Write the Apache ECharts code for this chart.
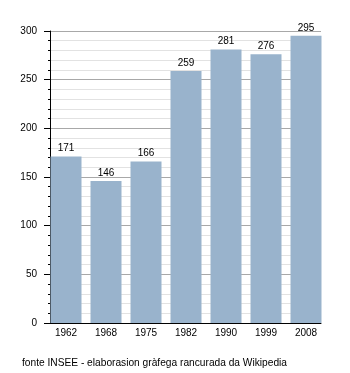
<!DOCTYPE html>
<html>
<head>
<meta charset="utf-8">
<script src="https://cdn.jsdelivr.net/npm/echarts@6/dist/echarts.min.js"></script>
<style>
  html, body { margin: 0; padding: 0; background: #fff; }
  #chart { width: 350px; height: 373px; }
</style>
</head>
<body>
<div id="chart"></div>
<script>
// Population by census year
const years = ['1962', '1968', '1975', '1982', '1990', '1999', '2008'];
const population = [171, 146, 166, 259, 281, 276, 295];
const yTicks = [0, 50, 100, 150, 200, 250, 300];

const FONT = '"Liberation Sans", Arial, sans-serif';
const yMin = yTicks[0];
const yMax = yTicks[yTicks.length - 1];
const yStep = yTicks[1] - yTicks[0];

const chart = echarts.init(document.getElementById('chart'), null, { renderer: 'canvas' });

chart.setOption({
  animation: false,
  backgroundColor: '#ffffff',
  textStyle: { fontFamily: FONT },
  title: {
    text: 'fonte INSEE - elaborasion gràfega rancurada da Wikipedia',
    left: 22,
    top: 358,
    padding: 0,
    textStyle: { fontFamily: FONT, fontSize: 10.2, fontWeight: 'normal', color: '#000' }
  },
  grid: [
    // frame grid: value axis, gridlines and baseline
    { left: 50, top: 31, width: 271, bottom: 50 },
    // bar grid
    { left: 46, top: 31, width: 280, bottom: 50 }
  ],
  xAxis: [
    {
      gridIndex: 0,
      type: 'category',
      data: years,
      axisLine: { show: true, lineStyle: { color: '#000', width: 1 } },
      axisTick: { show: false },
      axisLabel: { show: false },
      splitLine: { show: false }
    },
    {
      gridIndex: 1,
      type: 'category',
      data: years,
      axisLine: { show: false },
      axisTick: { show: false },
      axisLabel: { margin: 5, fontSize: 10, color: '#000', fontFamily: FONT },
      splitLine: { show: false }
    }
  ],
  yAxis: [
    {
      gridIndex: 0,
      type: 'value',
      min: yMin,
      max: yMax,
      interval: yStep,
      axisLine: { show: true, lineStyle: { color: '#000', width: 1 } },
      axisTick: { show: true, inside: false, length: 6, lineStyle: { color: '#000' } },
      minorTick: { show: true, splitNumber: 5, length: 2, lineStyle: { color: '#000' } },
      axisLabel: { margin: 13, fontSize: 10, color: '#000', fontFamily: FONT },
      splitLine: { show: true, lineStyle: { color: '#a8a8a8', width: 1 } },
      minorSplitLine: { show: true, lineStyle: { color: '#e2e2e2', width: 1 } }
    },
    {
      gridIndex: 1,
      type: 'value',
      min: yMin,
      max: yMax,
      interval: yStep,
      show: false,
      splitLine: { show: false }
    }
  ],
  series: [
    {
      type: 'bar',
      xAxisIndex: 1,
      yAxisIndex: 1,
      data: population,
      barWidth: 31,
      itemStyle: { color: '#99b3cc' },
      label: {
        show: true,
        position: 'top',
        distance: 3,
        fontSize: 10,
        color: '#000',
        fontFamily: FONT
      }
    }
  ]
});
</script>
</body>
</html>
